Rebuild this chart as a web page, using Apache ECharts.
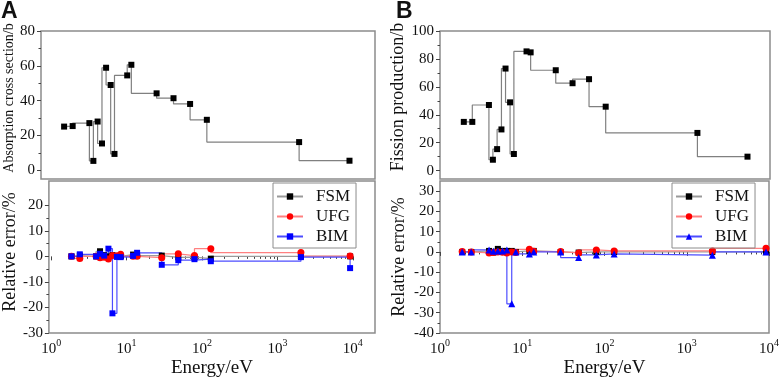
<!DOCTYPE html>
<html>
<head>
<meta charset="utf-8">
<script src="https://cdn.jsdelivr.net/npm/echarts@6.0.0/dist/echarts.min.js"></script>
<style>
html, body { margin: 0; padding: 0; background: #fff; }
#chart { width: 782px; height: 379px; }
</style>
</head>
<body>
<div id="chart"></div>
<script>
// group energies (eV), shared by every panel
var energy = [1.86, 2.4, 3.95, 4.45, 5.05, 5.75, 6.5, 7.45, 8.35, 12.2, 13.8, 29.3, 48.5, 79.5, 131, 2050, 9200]

// A: absorption cross section (b) and relative errors (%)
var absorption = [25.1, 25.4, 27.1, 5.4, 28.0, 15.4, 58.9, 49.0, 9.4, 54.5, 60.6, 44.2, 41.4, 38.1, 29.0, 16.2, 5.5]
var fsmA = [0, 0.3, 0, 2.0, 0.5, 0, 0.5, 0, 0, 0.7, 0.3, 0.3, -0.4, -0.3, -0.9, 0, 0]
var ufgA = [0, -0.8, 0, -0.5, -0.3, -1.0, 0.3, 0.2, 0.8, 0, 0, -0.5, 1.0, 0.3, 3.0, 1.5, 0.1]
var bimA = [0, 0.8, 0, 1.0, 0.3, 3.0, -22.3, -0.2, -0.3, 0.2, 1.4, -3.3, -1.5, -1.1, -1.9, -0.3, -4.6]

// B: fission production (b) and relative errors (%)
var fission = [34.9, 34.9, 47.0, 7.8, 15.4, 29.5, 73.1, 48.9, 11.9, 85.4, 84.7, 71.9, 62.6, 65.5, 45.8, 27.0, 10.0]
var fsmB = [0, 0, 0.5, -0.3, 1.5, 0.5, 0.5, 0.5, 0, 0.5, 0.5, 0, -0.3, 0, 0, 0, 0]
var ufgB = [0.2, 0, -0.5, -0.3, 0, -0.2, -0.5, 0, -0.3, 1.3, 0.3, 0.2, -0.5, 1.0, 0.5, 0.5, 1.8]
var bimB = [0, 0, 1.0, 0.3, 0.5, 0.5, 1.0, -25.6, 0, -1.0, 0, 0, -2.8, -1.5, -1.0, -1.6, 0]

// tick labels
var decades = [1, 10, 100, 1000, 10000]
var minorDecades = []
;[1, 10, 100, 1000].forEach(function(d) {
  for (var k = 2; k <= 9; k++) minorDecades.push(d * k)
})
var ticksTopA = [0, 20, 40, 60, 80]
var ticksTopB = [0, 20, 40, 60, 80, 100]
var ticksErrA = [-30, -20, -10, 0, 10, 20]
var ticksErrB = [-40, -30, -20, -10, 0, 10, 20, 30]

var serif = "'Liberation Serif', 'Times New Roman', serif"
var frame = '#8c8c8c'
var tickCol = '#444'

function pairs(ys) {
  return energy.map(function(e, i) { return [e, ys[i]] })
}
function halfSteps(list) {
  var out = []
  for (var i = 0; i < list.length - 1; i++) out.push((list[i] + list[i + 1]) / 2)
  return out
}

var gridBox = { show: true, borderColor: frame, borderWidth: 1.5, backgroundColor: 'transparent' }

function xMain(grid, min, max, labels) {
  return {
    type: 'log', gridIndex: grid, min: min, max: max, logBase: 10,
    position: 'bottom',
    axisLine: { show: false },
    splitLine: { show: false },
    axisTick: labels ? { show: true, customValues: decades, length: 4, lineStyle: { color: tickCol } } : { show: false },
    axisLabel: labels ? {
      show: true, customValues: decades, margin: 5,
      formatter: function(v) { return '{b|10}{s|' + Math.round(Math.log10(v)) + '}' },
      rich: {
        b: { fontFamily: serif, fontSize: 15, color: '#111', lineHeight: 19, verticalAlign: 'bottom' },
        s: { fontFamily: serif, fontSize: 10, color: '#111', lineHeight: 10, verticalAlign: 'top' }
      }
    } : { show: false },
    name: labels ? 'Energy/eV' : '',
    nameLocation: 'middle', nameGap: 26,
    nameTextStyle: { fontFamily: serif, fontSize: 19, color: '#111' }
  }
}
function xMinor(grid, min, max) {
  return {
    type: 'log', gridIndex: grid, min: min, max: max, position: 'bottom',
    axisLine: { show: false }, splitLine: { show: false }, axisLabel: { show: false },
    axisTick: { show: true, customValues: minorDecades, length: 2.5, lineStyle: { color: tickCol } }
  }
}
function yMain(grid, min, max, ticks, name, gap, size, shift) {
  return {
    type: 'value', gridIndex: grid, min: min, max: max, position: 'left',
    axisLine: { show: false }, splitLine: { show: false },
    axisTick: { show: true, customValues: ticks, length: 4, lineStyle: { color: tickCol } },
    axisLabel: { show: true, customValues: ticks, margin: 6, fontFamily: serif, fontSize: 15, color: '#111' },
    name: name, nameLocation: 'middle', nameRotate: 90, nameGap: gap,
    nameTextStyle: { fontFamily: serif, fontSize: size, color: '#111', padding: [0, 0, 0, shift] }
  }
}
function yMinor(grid, min, max, ticks) {
  return {
    type: 'value', gridIndex: grid, min: min, max: max, position: 'left',
    axisLine: { show: false }, splitLine: { show: false }, axisLabel: { show: false },
    axisTick: { show: true, customValues: halfSteps(ticks), length: 2.5, lineStyle: { color: tickCol } }
  }
}

function stepSeries(name, ys, xi, yi, step, lineColor, color, symbol, size) {
  return {
    name: name, type: 'line', xAxisIndex: xi, yAxisIndex: yi,
    data: pairs(ys), step: step,
    symbol: symbol, symbolSize: size, showAllSymbol: true,
    lineStyle: { color: lineColor, width: 1.2 },
    itemStyle: { color: color },
    animation: false
  }
}

var legendBase = {
  orient: 'vertical', itemWidth: 26, itemHeight: 8, itemGap: 3,
  borderColor: frame, borderWidth: 1, padding: [5, 6, 3, 3],
  textStyle: { fontFamily: serif, fontSize: 17, color: '#111', padding: [0, 0, 0, 8] },
  formatter: function(n) { return n.split('-')[0] },
  selectedMode: false
}

var option = {
  backgroundColor: '#fff',
  animation: false,
  title: [
    { text: 'A', left: 1, top: 0, padding: 0, textStyle: { fontFamily: "'Liberation Sans', Arial, sans-serif", fontSize: 23, fontWeight: 'bold', color: '#111' } },
    { text: 'B', left: 396, top: 0, padding: 0, textStyle: { fontFamily: "'Liberation Sans', Arial, sans-serif", fontSize: 23, fontWeight: 'bold', color: '#111' } }
  ],
  legend: [
    Object.assign({}, legendBase, { left: 273, top: 183, data: ['FSM-A', 'UFG-A', 'BIM-A'] }),
    Object.assign({}, legendBase, { left: 672, top: 183, data: ['FSM-B', 'UFG-B', 'BIM-B'] })
  ],
  grid: [
    Object.assign({ left: 41, top: 31, width: 334, height: 148 }, gridBox),
    Object.assign({ left: 41, top: 181, width: 334, height: 154 }, gridBox),
    Object.assign({ left: 440, top: 31, width: 330, height: 148 }, gridBox),
    Object.assign({ left: 440, top: 181, width: 330, height: 152 }, gridBox)
  ],
  xAxis: [
    xMain(0, 0.934, 19680, false),
    xMain(1, 0.934, 19680, true),
    xMinor(1, 0.934, 19680),
    xMain(2, 0.911, 18070, false),
    xMain(3, 1, 10000, true),
    xMinor(3, 1, 10000)
  ],
  yAxis: [
    yMain(0, -5, 80, ticksTopA, 'Absorption cross section/b', 22, 14, 14),
    yMinor(0, -5, 80, ticksTopA),
    yMain(1, -30, 29.5, ticksErrA, 'Relative error/%', 24, 18, 10),
    yMinor(1, -30, 29.5, ticksErrA),
    yMain(2, -6, 100, ticksTopB, 'Fission production/b', 33, 18, 16),
    yMinor(2, -6, 100, ticksTopB),
    yMain(3, -40, 35, ticksErrB, 'Relative error/%', 32, 18, 0),
    yMinor(3, -40, 35, ticksErrB)
  ],
  series: [
    stepSeries('absA', absorption, 0, 0, 'start', '#808080', '#000', 'rect', 6),
    stepSeries('FSM-A', fsmA, 1, 2, 'start', '#9a9a9a', '#000', 'rect', 6),
    stepSeries('UFG-A', ufgA, 1, 2, 'start', '#ff8080', '#ff0000', 'circle', 7),
    stepSeries('BIM-A', bimA, 1, 2, 'end', '#4d4dff', '#0000ff', 'rect', 6),
    stepSeries('absB', fission, 3, 4, 'start', '#808080', '#000', 'rect', 6),
    stepSeries('FSM-B', fsmB, 4, 6, 'start', '#9a9a9a', '#000', 'rect', 6),
    stepSeries('UFG-B', ufgB, 4, 6, 'start', '#ff8080', '#ff0000', 'circle', 7),
    stepSeries('BIM-B', bimB, 4, 6, 'start', '#4d4dff', '#0000ff', 'triangle', 7)
  ]
}

var myChart = echarts.init(document.getElementById('chart'), null, { renderer: 'canvas' })
myChart.setOption(option)
</script>
</body>
</html>
